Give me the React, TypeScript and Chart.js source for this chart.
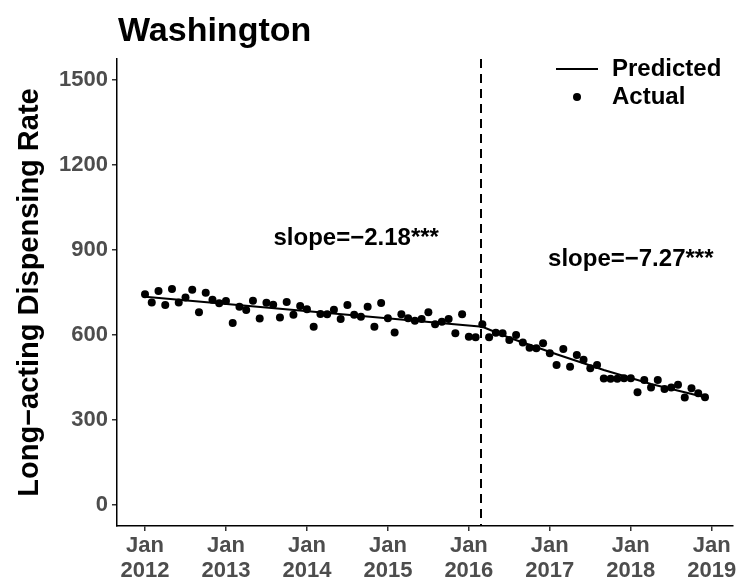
import React, { useEffect, useRef } from 'react';
import { Chart, registerables } from 'chart.js';

Chart.register(...registerables);

// ---- data ----
const chartTitle = 'Washington';
const yAxisTitle = 'Long\u2212acting Dispensing Rate';
const startYear = 2012;
// monthly actual values, Jan 2012 .. Dec 2018
const actualValues = [
  744, 715, 755, 706, 762, 715, 732, 760, 680, 749, 724, 712,
  720, 642, 700, 688, 721, 658, 714, 707, 662, 716, 671, 702,
  691, 629, 674, 673, 689, 656, 706, 671, 664, 700, 629, 713,
  659, 609, 673, 659, 650, 656, 680, 638, 647, 656, 606, 673,
  594, 592, 638, 592, 608, 606, 582, 600, 573, 555, 553, 571,
  535, 494, 550, 488, 529, 512, 482, 494, 446, 445, 445, 447,
  447, 398, 441, 414, 441, 409, 414, 424, 379, 412, 394, 380,
];
// predicted curve, read at knots (month index from Jan 2012)
const predictedMonths = [0, 50, 54, 61, 68, 75, 83];
const predictedValues = [735, 629, 590, 532, 476, 427, 380];
const interventionMonth = 49.8;
const xTickYears = [2012, 2013, 2014, 2015, 2016, 2017, 2018, 2019];
const yTickValues = [0, 300, 600, 900, 1200, 1500];
const slopeLabels = ['slope=\u22122.18***', 'slope=\u22127.27***'];
const slopeLabelMonths = [31.3, 72];
const slopeLabelValues = [942, 868];
const legendLabels = ['Predicted', 'Actual'];

const FONT = "'Liberation Sans', Arial, Helvetica, sans-serif";

export default function App() {
  const ref = useRef<HTMLCanvasElement>(null);

  useEffect(() => {
    document.body.style.margin = '0';
    const canvas = ref.current!;
    const actualPts = actualValues.map((v, i) => ({ x: i, y: v }));
    const predPts = predictedMonths.map((m, i) => ({ x: m, y: predictedValues[i] }));

    const overlay = {
      id: 'overlay',
      afterDatasetsDraw(chart: any) {
        const { ctx, chartArea, scales } = chart;
        const xs = scales.x;
        const ys = scales.y;
        ctx.save();
        // dashed intervention line
        const xv = xs.getPixelForValue(interventionMonth);
        ctx.strokeStyle = '#000';
        ctx.lineWidth = 2;
        ctx.setLineDash([9, 6]);
        ctx.beginPath();
        ctx.moveTo(xv, chartArea.top);
        ctx.lineTo(xv, chartArea.bottom);
        ctx.stroke();
        ctx.setLineDash([]);

        // slope labels
        ctx.fillStyle = '#000';
        ctx.font = `bold 24px ${FONT}`;
        ctx.textAlign = 'center';
        ctx.textBaseline = 'middle';
        slopeLabels.forEach((t, k) => {
          ctx.fillText(t, xs.getPixelForValue(slopeLabelMonths[k]), ys.getPixelForValue(slopeLabelValues[k]));
        });

        // title
        ctx.textAlign = 'left';
        ctx.textBaseline = 'alphabetic';
        ctx.font = `bold 34px ${FONT}`;
        ctx.fillText(chartTitle, chartArea.left + 1, 41);

        // legend
        ctx.font = `bold 24px ${FONT}`;
        ctx.textBaseline = 'middle';
        ctx.lineWidth = 2;
        ctx.beginPath();
        ctx.moveTo(556, 69);
        ctx.lineTo(598, 69);
        ctx.stroke();
        ctx.fillText(legendLabels[0], 612, 69);
        ctx.beginPath();
        ctx.arc(577, 97, 4, 0, Math.PI * 2);
        ctx.fill();
        ctx.fillText(legendLabels[1], 612, 97);
        ctx.restore();
      },
    };

    const chart = new Chart(canvas, {
      type: 'scatter',
      data: {
        datasets: [
          {
            label: legendLabels[0],
            data: predPts,
            showLine: true,
            borderColor: '#000',
            borderWidth: 2,
            pointRadius: 0,
            order: 1,
          } as any,
          {
            label: legendLabels[1],
            data: actualPts,
            backgroundColor: '#000',
            borderWidth: 0,
            pointRadius: 4,
            order: 2,
          },
        ],
      },
      options: {
        responsive: false,
        animation: false,
        layout: { padding: { top: 59, right: 22, left: 0, bottom: 0 } },
        plugins: {
          legend: { display: false },
          title: { display: false },
          tooltip: { enabled: false },
        },
        scales: {
          x: {
            type: 'linear',
            min: -4.15,
            max: 87.15,
            afterBuildTicks: (s: any) => {
              s.ticks = xTickYears.map((y) => ({ value: (y - startYear) * 12 }));
            },
            afterFit: (s: any) => {
              s.height = 61;
            },
            ticks: {
              autoSkip: false,
              maxRotation: 0,
              color: '#4D4D4D',
              font: { family: FONT, size: 22, weight: 'bold', lineHeight: 1.13 },
              padding: 3,
              callback: (v: any) => ['Jan', String(startYear + Math.round(Number(v) / 12))],
            },
            grid: {
              display: true,
              drawOnChartArea: false,
              drawTicks: true,
              tickLength: 5,
              color: '#333',
              lineWidth: 1.5,
            },
            border: { display: true, color: '#000', width: 1.5 },
          },
          y: {
            type: 'linear',
            min: -75,
            max: 1575,
            afterBuildTicks: (s: any) => {
              s.ticks = yTickValues.map((v) => ({ value: v }));
            },
            afterFit: (s: any) => {
              s.width = 117;
            },
            ticks: {
              color: '#4D4D4D',
              font: { family: FONT, size: 22, weight: 'bold' },
              padding: 4,
              callback: (v: any) => String(v),
            },
            grid: {
              display: true,
              drawOnChartArea: false,
              drawTicks: true,
              tickLength: 5,
              color: '#333',
              lineWidth: 1.5,
            },
            border: { display: true, color: '#000', width: 1.5 },
            title: {
              display: true,
              text: yAxisTitle,
              color: '#000',
              font: { family: FONT, size: 29, weight: 'bold' },
              padding: { top: 13, bottom: 0 },
            },
          },
        },
      },
      plugins: [overlay],
    });
    return () => chart.destroy();
  }, []);

  return (
    <div style={{ position: 'fixed', left: 0, top: 0, width: 755, height: 587, background: '#fff' }}>
      <canvas ref={ref} width={755} height={587} />
    </div>
  );
}
